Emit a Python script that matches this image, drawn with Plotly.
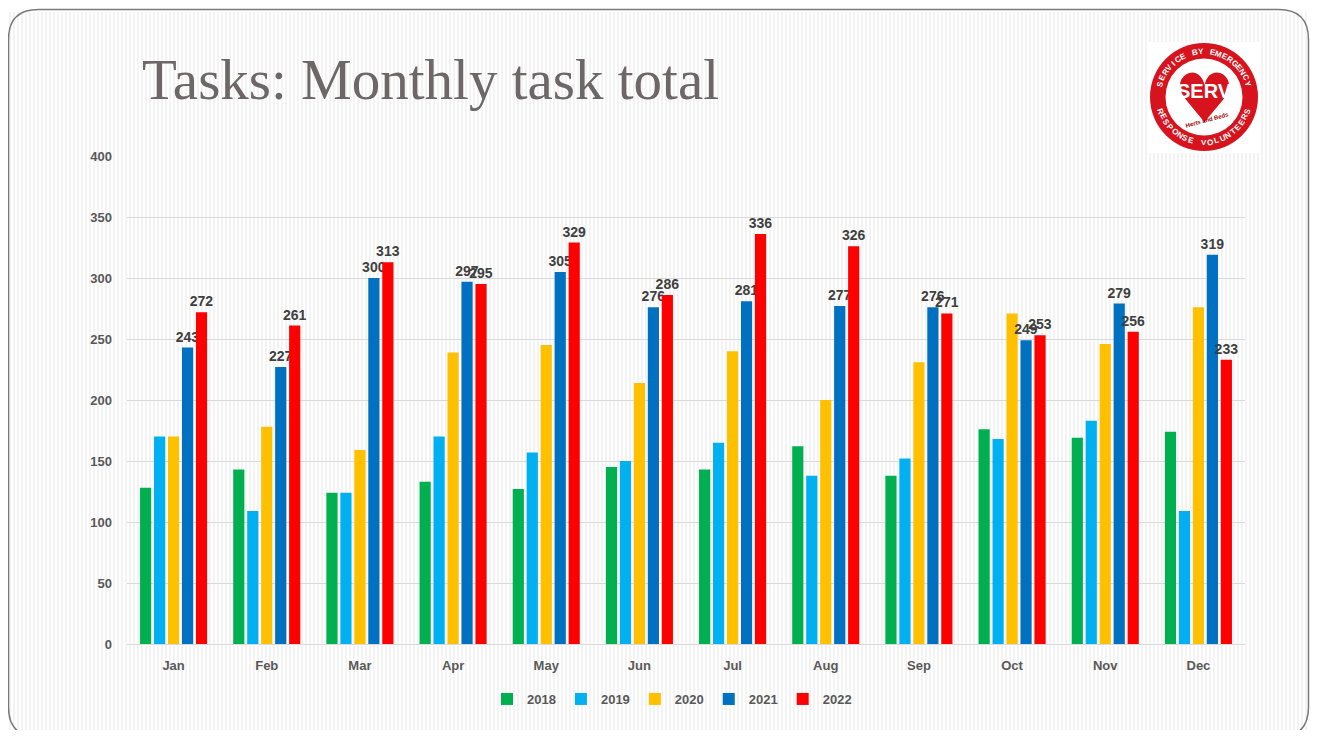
import math
import plotly.graph_objects as go

months = ["Jan", "Feb", "Mar", "Apr", "May", "Jun", "Jul", "Aug", "Sep", "Oct", "Nov", "Dec"]
years = ["2018", "2019", "2020", "2021", "2022"]
tasks_2018 = [128, 143, 124, 133, 127, 145, 143, 162, 138, 176, 169, 174]
tasks_2019 = [170, 109, 124, 170, 157, 150, 165, 138, 152, 168, 183, 109]
tasks_2020 = [170, 178, 159, 239, 245, 214, 240, 200, 231, 271, 246, 276]
tasks_2021 = [243, 227, 300, 297, 305, 276, 281, 277, 276, 249, 279, 319]
tasks_2022 = [272, 261, 313, 295, 329, 286, 336, 326, 271, 253, 256, 233]
series = [tasks_2018, tasks_2019, tasks_2020, tasks_2021, tasks_2022]
colors = ["#00B050", "#00B0F0", "#FFC000", "#0070C0", "#FF0000"]
labelled = [False, False, False, True, True]

# page offset (browser body margin)
OX, OY = 8, 8
W, H = 1302, 722
# plot area in screen pixels
L, R, T, B = 127, 1245, 156, 644


def px(x):
    return (x - L) / (R - L)


def py(y):
    return (B - y) / (B - T)


fig = go.Figure()
for name, vals, col, lab in zip(years, series, colors, labelled):
    fig.add_trace(go.Bar(
        name=name, x=months, y=vals,
        marker=dict(color=col, line=dict(width=0)),
        text=vals if lab else None,
        texttemplate="%{text}" if lab else None,
        textposition="outside" if lab else "none",
        textfont=dict(family="Liberation Sans, Arial", size=14, color="#404040", weight="bold"),
        constraintext="none",
        cliponaxis=False,
    ))

shapes = []
# background stripes
segs = []
x = 10
while x < 1308:
    segs.append(f"M{px(x):.5f},{py(12):.5f} L{px(x):.5f},{py(735):.5f}")
    x += 4
shapes.append(dict(type="path", xref="paper", yref="paper", layer="below",
                   path=" ".join(segs), line=dict(color="#f0f0f0", width=1.5)))

# rounded slide border
x0, y0, x1, y1, r = 8.5, 9.5, 1308.5, 737, 30
p = (f"M{px(x0 + r)},{py(y0)} L{px(x1 - r)},{py(y0)} Q{px(x1)},{py(y0)} {px(x1)},{py(y0 + r)} "
     f"L{px(x1)},{py(y1 - r)} Q{px(x1)},{py(y1)} {px(x1 - r)},{py(y1)} "
     f"L{px(x0 + r)},{py(y1)} Q{px(x0)},{py(y1)} {px(x0)},{py(y1 - r)} "
     f"L{px(x0)},{py(y0 + r)} Q{px(x0)},{py(y0)} {px(x0 + r)},{py(y0)} Z")
shapes.append(dict(type="path", xref="paper", yref="paper", layer="below", path=p,
                   line=dict(color="#7a7a7a", width=1.5)))

# logo
cx, cy = 1204, 97
shapes.append(dict(type="rect", xref="paper", yref="paper", layer="above",
                   x0=px(1148), x1=px(1260), y0=py(153), y1=py(42),
                   fillcolor="white", line=dict(width=0)))
for rad, colr in [(54, "#D7141E"), (38.5, "white")]:
    shapes.append(dict(type="circle", xref="paper", yref="paper", layer="above",
                       x0=px(cx - rad), x1=px(cx + rad), y0=py(cy + rad), y1=py(cy - rad),
                       fillcolor=colr, line=dict(width=0)))

annotations = [
    dict(text="Tasks: Monthly task total", xref="paper", yref="paper",
         x=px(140), y=py(80), xanchor="left", yanchor="middle", showarrow=False,
         font=dict(family="Liberation Serif, serif", size=57, color="#6d6768")),
    dict(text="♥", xref="paper", yref="paper", x=px(cx), y=py(cy + 2), showarrow=False,
         xanchor="center", yanchor="middle",
         font=dict(family="DejaVu Sans", size=68, color="#D7141E")),
    dict(text="SERV", xref="paper", yref="paper", x=px(cx), y=py(cy - 6), showarrow=False,
         xanchor="center", yanchor="middle",
         font=dict(family="Liberation Sans Narrow, Liberation Sans", size=20, color="white", weight="bold")),
    dict(text="Herts and Beds", xref="paper", yref="paper", x=px(cx + 3), y=py(cy + 23), showarrow=False,
         xanchor="center", yanchor="middle", textangle=-15,
         font=dict(family="Liberation Sans", size=6, color="#a00000", weight="bold")),
]

rt = 45.5
top_txt = "SERVICE BY EMERGENCY"
n = len(top_txt)
for i, ch in enumerate(top_txt):
    th = 163 - (163 - 17) * i / (n - 1)
    t = math.radians(th)
    annotations.append(dict(text=ch, xref="paper", yref="paper",
                            x=px(cx + rt * math.cos(t)), y=py(cy - rt * math.sin(t)),
                            showarrow=False, xanchor="center", yanchor="middle",
                            textangle=90 - th,
                            font=dict(family="Liberation Sans", size=8, color="white", weight="bold")))
bot_txt = "RESPONSE VOLUNTEERS"
n = len(bot_txt)
for i, ch in enumerate(bot_txt):
    th = 198 + (342 - 198) * i / (n - 1)
    t = math.radians(th)
    annotations.append(dict(text=ch, xref="paper", yref="paper",
                            x=px(cx + rt * math.cos(t)), y=py(cy - rt * math.sin(t)),
                            showarrow=False, xanchor="center", yanchor="middle",
                            textangle=270 - th,
                            font=dict(family="Liberation Sans", size=8, color="white", weight="bold")))

fig.update_layout(
    width=W, height=H,
    margin=dict(l=L - OX, r=(OX + W) - R, t=T - OY, b=(OY + H) - B, pad=0),
    paper_bgcolor="white", plot_bgcolor="rgba(0,0,0,0)",
    barmode="group", bargap=0.25, bargroupgap=0.2,
    font=dict(family="Liberation Sans, Arial", size=13, color="#595959"),
    showlegend=True,
    legend=dict(orientation="h", x=px(672), y=py(699), xanchor="center", yanchor="middle",
                bgcolor="rgba(0,0,0,0)",
                font=dict(family="Liberation Sans, Arial", size=13, color="#595959", weight="bold"),
                itemwidth=30, traceorder="normal"),
    xaxis=dict(showgrid=False, showline=False, ticks="", ticklabelstandoff=12,
               tickfont=dict(size=13, color="#595959", weight="bold")),
    yaxis=dict(range=[0, 400], dtick=50, showgrid=True, gridcolor="#d9d9d9", gridwidth=1,
               zeroline=True, zerolinecolor="#d9d9d9", zerolinewidth=1,
               showline=False, ticks="", ticklabelstandoff=14,
               tickfont=dict(size=13, color="#595959", weight="bold")),
    shapes=shapes,
    annotations=annotations,
)

fig.write_html("out.html")
